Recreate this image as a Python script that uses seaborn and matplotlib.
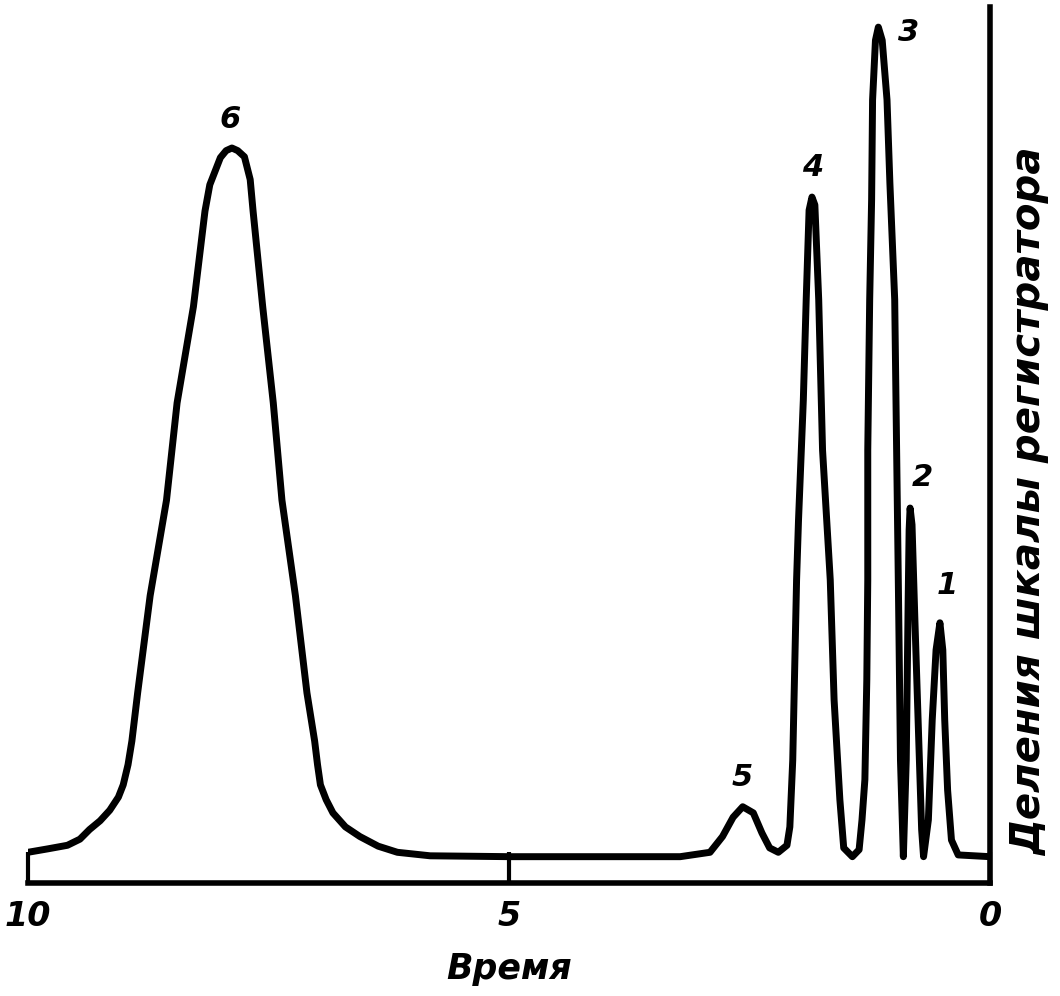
import matplotlib
matplotlib.use("Agg")
import matplotlib.pyplot as plt
import seaborn as sns

sns.set_style("white")
plt.rcParams["font.family"] = ["DejaVu Sans"]
plt.rcParams["text.color"] = "black"
plt.rcParams["axes.labelcolor"] = "black"
plt.rcParams["xtick.color"] = "black"
plt.rcParams["xtick.labelcolor"] = "black"

# =====================================================
# DATA
# =====================================================

# time, read on the reversed axis 10 -> 0
time = [10.00, 9.79, 9.59, 9.46, 9.36, 9.25, 9.15, 9.06, 9.01, 8.96, 8.92, 8.86,
        8.73, 8.56, 8.45, 8.28, 8.16, 8.11, 8.00, 7.94,
        7.88,
        7.82, 7.75, 7.69, 7.66, 7.56, 7.45, 7.36, 7.22, 7.10, 7.02, 6.99, 6.96, 6.90,
        6.83, 6.70, 6.55, 6.36, 6.16, 5.82,
        4.99, 4.05, 3.22, 2.91, 2.78, 2.67, 2.57, 2.46, 2.37, 2.29, 2.20, 2.11, 2.08,
        2.05, 2.01, 1.99, 1.94, 1.91, 1.88, 1.85, 1.82, 1.78, 1.74, 1.66, 1.62, 1.56,
        1.52, 1.43, 1.36, 1.33, 1.30, 1.28, 1.27, 1.27, 1.25, 1.23, 1.22, 1.19, 1.16,
        1.12, 1.07, 1.04, 0.99, 0.97, 0.95, 0.93, 0.90, 0.87, 0.85, 0.84, 0.83, 0.81,
        0.78, 0.74, 0.71, 0.69, 0.64, 0.60, 0.56, 0.52, 0.49, 0.47, 0.44, 0.40, 0.33,
        0.00]

# recorder scale divisions
signal = [3.5, 3.9, 4.3, 5.0, 6.1, 7.1, 8.3, 9.8, 11.2, 13.5, 16.2, 21.7,
          32.8, 43.7, 54.8, 65.8, 76.7, 79.7, 82.8, 83.6,
          83.9,
          83.6, 82.9, 80.3, 76.7, 65.8, 54.8, 43.7, 32.8, 21.7, 16.2, 13.5, 11.2, 9.5,
          8.0, 6.4, 5.3, 4.2, 3.5, 3.1,
          3.0, 3.0, 3.0, 3.5, 5.3, 7.5, 8.7, 8.0, 5.7, 4.0, 3.5, 4.3, 6.4,
          14.0, 34.6, 41.4, 55.1, 66.6, 76.8, 78.3, 77.4, 66.6, 49.4, 34.6, 20.9, 9.5,
          4.0, 3.0, 3.8, 7.2, 11.8, 23.2, 34.6, 49.4, 66.6, 78.0, 89.4, 96.2, 97.7,
          96.2, 89.4, 79.9, 66.6, 49.4, 32.3, 14.0, 3.0, 14.0, 32.3, 40.3, 42.8, 40.9,
          30.0, 16.3, 6.1, 3.0, 7.2, 18.6, 26.6, 29.7, 26.6, 18.6, 10.6, 4.9, 3.2,
          3.0]

peak_names = ["6", "5", "4", "3", "2", "1"]
peak_label_t = [7.90, 2.58, 1.84, 0.85, 0.70, 0.44]
peak_label_y = [87.1, 12.0, 81.7, 97.1, 46.3, 33.9]

tick_values = [10, 5, 0]
tick_labels = ["10", "5", "0"]

# =====================================================
# PLOT
# =====================================================

fig = plt.figure(figsize=(10.6, 9.96), dpi=100)
ax = fig.add_axes([0.0264, 0.1135, 0.9075, 0.8795])

sns.lineplot(x=time, y=signal, sort=False, estimator=None, color="black",
             linewidth=5, ax=ax)
for line in ax.get_lines():
    line.set_solid_joinstyle("round")
    line.set_solid_capstyle("round")

for name, tx, ty in zip(peak_names, peak_label_t, peak_label_y):
    ax.text(tx, ty, name, ha="center", va="center", fontsize=22,
            style="italic", fontweight="bold", color="black")

ax.set_xlim(10, 0)
ax.set_ylim(0, 100)

for side in ["left", "top"]:
    ax.spines[side].set_visible(False)
for side in ["bottom", "right"]:
    ax.spines[side].set_visible(True)
    ax.spines[side].set_color("black")
    ax.spines[side].set_linewidth(4)

ax.set_xticks(tick_values)
ax.set_xticklabels(tick_labels, fontsize=24, style="italic", fontweight="bold")
ax.tick_params(axis="x", direction="in", length=22, width=3, color="black",
               labelcolor="black", pad=12, bottom=True)
ax.set_yticks([])

ax.set_xlabel("Время", fontsize=25, style="italic", fontweight="bold",
              labelpad=14, color="black")
ax.yaxis.set_label_position("right")
ax.set_ylabel("Деления шкалы регистратора", fontsize=29, style="italic",
              fontweight="bold", va="center", rotation=90, color="black")
ax.yaxis.set_label_coords(1.042, 0.435)

plt.savefig("out.png", dpi=100, facecolor="white")
